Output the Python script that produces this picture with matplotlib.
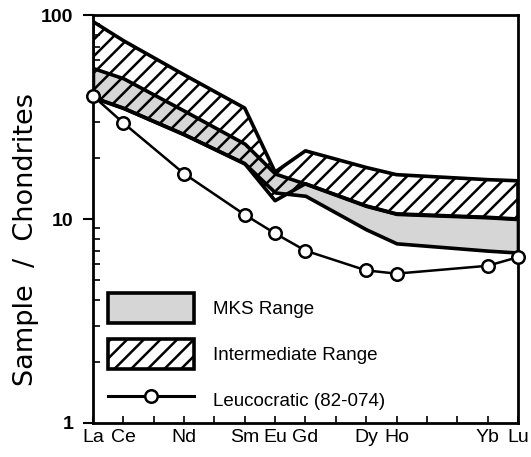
import numpy as np
import matplotlib
matplotlib.use("Agg")
import matplotlib.pyplot as plt
from matplotlib.patches import Patch
from matplotlib.lines import Line2D
from matplotlib.ticker import LogLocator, FixedLocator, NullFormatter

plt.rcParams['font.family'] = ['Liberation Sans', 'DejaVu Sans']
plt.rcParams['hatch.linewidth'] = 1.8

# REE (atomic number) positions of plotted elements
ree_z = [57, 58, 60, 62, 63, 64, 66, 67, 70, 71]
ree_labels = ['La', 'Ce', 'Nd', 'Sm', 'Eu', 'Gd', 'Dy', 'Ho', 'Yb', 'Lu']
all_z = list(range(57, 72))

# Leucocratic sample 82-074
leuco = [40.2, 29.6, 16.7, 10.5, 8.5, 7.0, 5.6, 5.4, 5.9, 6.5]

# Intermediate range (hatched)
inter_hi = [93, 75, 51, 35, 17, 21.6, 17.9, 16.5, 15.6, 15.4]
inter_lo = [39.5, 35, 26, 18.7, 12.3, 14.9, 11.6, 10.6, 10.2, 10.0]

# MKS range (grey)
mks_hi = [55, 49, 34, 23.4, 16.7, 14.9, 11.6, 10.6, 10.2, 10.0]
mks_lo = [39.5, 35, 26, 18.7, 13.5, 13.0, 8.9, 7.6, 7.0, 6.85]

gray = '#d6d6d6'

fig = plt.figure(figsize=(5.31, 4.57), dpi=100)
ax = fig.add_axes([0.175, 0.0744, 0.8005, 0.8926])

ax.fill_between(ree_z, mks_lo, mks_hi, facecolor=gray, edgecolor='black',
                linewidth=2.6, zorder=2)
ax.fill_between(ree_z, inter_lo, inter_hi, facecolor='none', edgecolor='black',
                hatch='//', linewidth=2.6, zorder=3)
ax.plot(ree_z, leuco, color='black', lw=1.8, marker='o', ms=9,
        mfc='white', mec='black', mew=1.8, zorder=5, clip_on=False)

ax.set_yscale('log')
ax.set_ylim(1, 100)
ax.set_xlim(57, 71)

ax.set_yticks([1, 10, 100])
ax.set_yticklabels(['1', '10', '100'], fontsize=14, fontweight='bold')
ax.yaxis.set_minor_locator(LogLocator(base=10, subs=np.arange(2, 10)))
ax.yaxis.set_minor_formatter(NullFormatter())
ax.tick_params(axis='y', which='major', direction='out', length=7, width=1.5, pad=7)
ax.tick_params(axis='y', which='minor', direction='in', length=5, width=1.2)

ax.set_xticks(ree_z)
ax.set_xticklabels(ree_labels, fontsize=14)
ax.xaxis.set_minor_locator(FixedLocator(all_z))
ax.tick_params(axis='x', which='both', direction='in', length=5, width=1.2, pad=4)
ax.tick_params(right=False, top=False)

for s in ax.spines.values():
    s.set_linewidth(2)

ax.set_ylabel('Sample  /  Chondrites', fontsize=19.5, family='DejaVu Sans')
ax.yaxis.set_label_coords(-0.128, 0.45)

handles = [
    Patch(facecolor=gray, edgecolor='black', linewidth=2.6),
    Patch(facecolor='white', edgecolor='black', hatch='//', linewidth=2.6),
    Line2D([], [], color='black', lw=2.2, marker='o', ms=9, mfc='white',
           mec='black', mew=1.8),
]
labels = ['MKS Range', 'Intermediate Range', 'Leucocratic (82-074)']
ax.legend(handles, labels, loc='lower left', bbox_to_anchor=(0.0, -0.018),
          frameon=False, fontsize=13.5, handlelength=4.6, handleheight=2.1,
          handletextpad=1.0, labelspacing=0.85, borderpad=0.3)

fig.savefig('out.png', dpi=100)
